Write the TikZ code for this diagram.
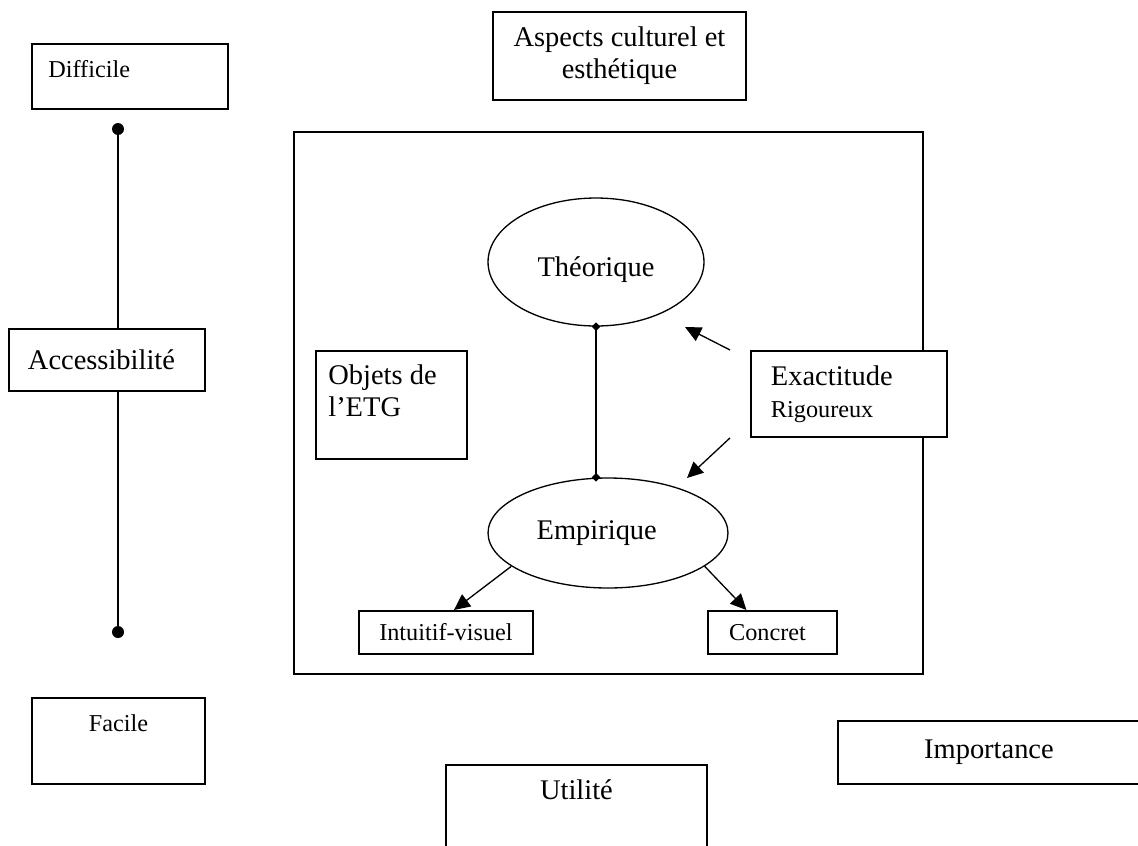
\documentclass[tikz,border=0pt]{standalone}
\usepackage{fontspec}
\setmainfont{Liberation Serif}
\usetikzlibrary{positioning, arrows.meta, shapes.geometric}
\tikzset{
    box/.style={
        draw=black,
        line width=1.1pt,
        fill=white,
        inner sep=0pt,
        anchor=north west
    },
    bigtxt/.style={font=\fontsize{16.2}{18.4}\selectfont},
    smalltxt/.style={font=\fontsize{13.8}{16}\selectfont},
    pole/.style={
        draw=black,
        line width=0.75pt,
        ellipse,
        inner sep=0pt,
        bigtxt
    },
    link/.style={draw=black, line width=0.75pt},
    tip/.style={link, -{Triangle[length=0.32cm, width=0.3cm]}}
}

\begin{document}
\begin{tikzpicture}[x=0.02cm, y=-0.02cm]
            % Page
            \clip (0,0) rectangle (1138,845);
            \fill [white] (0,0) rectangle (1138,845);

            % Scale on the left
            \coordinate (hard) at (118,129);
            \coordinate (easy) at (118,632);
            \draw [link, line width=1pt] (hard) -- (easy);
            \fill (hard) circle (0.12cm);
            \fill (easy) circle (0.12cm);

            \node (diffbox) [
                box,
                minimum width=3.92cm,
                minimum height=1.3cm
            ] at (31,43) {};
            \node (difficile) [
                smalltxt,
                inner sep=0pt,
                below right=0.34cm and 0.34cm of diffbox.north west
            ] {Difficile};
            \node (access) [
                box,
                bigtxt,
                align=left,
                text width=3.16cm,
                inner xsep=0.38cm,
                minimum height=1.24cm
            ] at (8,328) {Accessibilité};
            \node (facbox) [
                box,
                minimum width=3.46cm,
                minimum height=1.72cm
            ] at (31,697) {};
            \node (facile) [
                smalltxt,
                inner sep=0pt,
                below=0.34cm of facbox.north
            ] {Facile};

            % Outer boxes
            \node (aspects) [
                box,
                bigtxt,
                align=center,
                minimum width=5.06cm,
                minimum height=1.76cm
            ] at (492,11) {Aspects culturel et\\esthétique\\[-0.5cm]};
            \node (utilbox) [
                box,
                minimum width=5.22cm,
                minimum height=2.4cm
            ] at (445,764) {};
            \node (utilite) [
                bigtxt,
                inner sep=0pt,
                below=0.3cm of utilbox.north
            ] {Utilité};
            \node (importance) [
                box,
                bigtxt,
                minimum width=6.04cm,
                minimum height=1.26cm
            ] at (837,720) {Importance};

            % Frame
            \node (frame) [
                box,
                minimum width=12.58cm,
                minimum height=10.84cm
            ] at (293,131) {};

            % Inside the frame
            \node (theo) [
                pole,
                text height=0.7cm,
                minimum width=4.32cm,
                minimum height=2.56cm
            ] at (596,262) {Théorique};
            \node (emp) [
                pole,
                minimum width=4.8cm,
                minimum height=2.2cm
            ] at (608,533) {\hspace*{-0.45cm}Empirique};
            \node (objbox) [
                box,
                minimum width=3.02cm,
                minimum height=2.16cm
            ] at (315,350) {};
            \node (objets) [
                bigtxt,
                align=left,
                inner sep=0pt,
                below right=0.28cm and 0.26cm of objbox.north west
            ] {Objets de\\l’ETG};
            \node (exact) [
                box,
                bigtxt,
                align=left,
                text width=3.12cm,
                inner xsep=0.4cm,
                minimum height=1.72cm
            ] at (750,350) {Exactitude\\{\fontsize{13.8}{16}\selectfont Rigoureux}};
            \node (intuitif) [
                box,
                smalltxt,
                minimum width=3.48cm,
                minimum height=0.86cm
            ] at (358,610) {Intuitif-visuel};
            \node (concret) [
                box,
                smalltxt,
                minimum width=2.58cm,
                minimum height=0.86cm
            ] at (707,610) {\hspace*{-0.2cm}Concret};

            % Link between the poles
            \coordinate (empTop) at (theo.south |- emp.north);
            \draw [link] (theo.south) -- (empTop);
            \node (dotTheo) [diamond, fill=black, inner sep=0pt, minimum size=0.18cm] at (theo.south) {};
            \node (dotEmp) [diamond, fill=black, inner sep=0pt, minimum size=0.18cm] at (empTop) {};

            % Arrows
            \coordinate (theoTip) at (685,327);
            \coordinate (empTip) at (687,478);
            \draw [tip] ([xshift=-0.4cm]exact.north west) -- (theoTip);
            \draw [tip] ([xshift=-0.4cm]exact.south west) -- (empTip);
            \draw [tip] (emp.199) -- ([xshift=0.16cm]intuitif.north);
            \draw [tip] (emp.341) -- ([xshift=-0.52cm]concret.north);
\end{tikzpicture}
\end{document}
